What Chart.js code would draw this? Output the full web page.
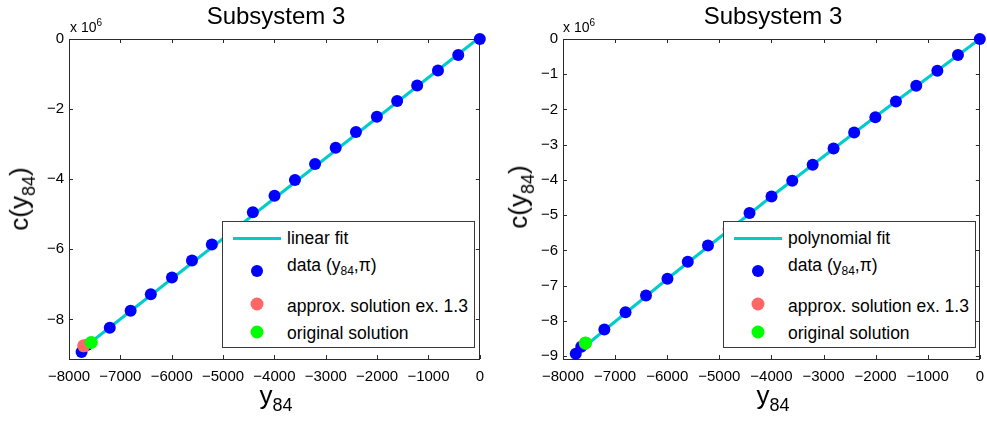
<!DOCTYPE html>
<html>
<head>
<meta charset="utf-8">
<script src="https://cdn.jsdelivr.net/npm/chart.js@4.4.1/dist/chart.umd.min.js"></script>
<style>
  html, body { margin: 0; padding: 0; background: #fff; overflow: hidden; }
  body { width: 987px; height: 421px; position: relative; font-family: "Liberation Sans", Arial, sans-serif; color: #000; }
  canvas { position: absolute; top: 0; }
  .txt { position: absolute; white-space: nowrap; }
  .title { font-size: 24px; transform: translateX(-50%); top: 2px; }
  .xlab { font-size: 26px; transform: translateX(-50%); top: 380px; }
  .ylab { font-size: 26px; transform: translate(-50%, -50%) rotate(-90deg); }
  .sub { font-size: 18px; vertical-align: -0.4em; }
  .mult { font-size: 14px; top: 17px; }
  .mult sup { font-size: 10px; vertical-align: 0.55em; }
  .legend { position: absolute; width: 251px; height: 125px; border: 1px solid #3a3a3a; background: #fff; top: 221px; }
  .legend .row { position: absolute; left: 64px; font-size: 17.5px; line-height: 20px; white-space: nowrap; }
  .legend .row .lsub { font-size: 12px; vertical-align: -0.35em; }
  .legend .lineSample { position: absolute; left: 10px; width: 48px; height: 3px; top: 15px; background: #00cccc; }
  .legend .dot { position: absolute; border-radius: 50%; transform: translate(-50%, -50%); left: 34px; }
</style>
</head>
<body>
<canvas id="leftChart" width="493" height="421" style="left:0px;width:493px;height:421px"></canvas>
<canvas id="rightChart" width="500" height="421" style="left:493px;width:500px;height:421px"></canvas>

<div class="txt title" style="left:276px">Subsystem 3</div>
<div class="txt title" style="left:773px">Subsystem 3</div>
<div class="txt mult" style="left:70px">x 10<sup>6</sup></div>
<div class="txt mult" style="left:563px">x 10<sup>6</sup></div>
<div class="txt xlab" style="left:276px">y<span class="sub">84</span></div>
<div class="txt xlab" style="left:773px">y<span class="sub">84</span></div>
<div class="txt ylab" style="left:22px;top:199px">c(y<span class="sub">84</span>)</div>
<div class="txt ylab" style="left:521px;top:197px">c(y<span class="sub">84</span>)</div>

<div class="legend" style="left:222px">
  <div class="lineSample"></div>
  <div class="row" style="top:6px">linear fit</div>
  <span class="dot" style="top:49px;width:12px;height:12px;background:#0000ff"></span>
  <div class="row" style="top:33px">data (y<span class="lsub">84</span>,π)</div>
  <span class="dot" style="top:82px;width:13px;height:13px;background:#ff6666"></span>
  <div class="row" style="top:74px">approx. solution ex. 1.3</div>
  <span class="dot" style="top:110px;width:13px;height:13px;background:#00ff00"></span>
  <div class="row" style="top:101px">original solution</div>
</div>
<div class="legend" style="left:723px">
  <div class="lineSample"></div>
  <div class="row" style="top:6px">polynomial fit</div>
  <span class="dot" style="top:49px;width:12px;height:12px;background:#0000ff"></span>
  <div class="row" style="top:33px">data (y<span class="lsub">84</span>,π)</div>
  <span class="dot" style="top:82px;width:13px;height:13px;background:#ff6666"></span>
  <div class="row" style="top:74px">approx. solution ex. 1.3</div>
  <span class="dot" style="top:110px;width:13px;height:13px;background:#00ff00"></span>
  <div class="row" style="top:101px">original solution</div>
</div>

<script>
// data; c values are in units of 10^6
const dataY84 = [0, -420, -815, -1220, -1610, -2005, -2412, -2807, -3208, -3600, -3998,
  -4420, -4820, -5218, -5605, -5995, -6407, -6800, -7206, -7650, -7755];
const dataC = [0, -0.456, -0.898, -1.329, -1.772, -2.218, -2.651, -3.106, -3.567, -4.020, -4.470,
  -4.940, -5.390, -5.860, -6.320, -6.805, -7.280, -7.755, -8.240, -8.730, -8.930];

// left: linear fit
const linFitY84 = [-7755, 0];
const linFitC = [-8.86, 0.05];
const leftApproxY84 = [-7714];
const leftApproxC = [-8.754];
const leftOrigY84 = [-7565];
const leftOrigC = [-8.657];

// right: polynomial fit
const polyFitY84 = [-7755, -6000, -4000, -2000, 0];
const polyFitC = [-8.93, -6.81, -4.47, -2.2, 0];
const rightApproxY84 = [-7572];
const rightApproxC = [-8.63];
const rightOrigY84 = [-7567];
const rightOrigC = [-8.625];

// tick labels
const xTicks = [-8000, -7000, -6000, -5000, -4000, -3000, -2000, -1000, 0];
const leftYTicks = [0, -2, -4, -6, -8];
const rightYTicks = [0, -1, -2, -3, -4, -5, -6, -7, -8, -9];

const FONT = "'Liberation Sans', Arial, sans-serif";
const minus = v => String(v).replace('-', '\u2212');
const pts = (xs, ys) => xs.map((x, i) => ({ x: x, y: ys[i] }));

// axes box + inward ticks on all four sides, like matlab
const framePlugin = {
  id: 'frame',
  beforeDatasetsDraw(chart) {
    const { ctx, chartArea: a, scales: { x, y } } = chart;
    ctx.save();
    ctx.strokeStyle = '#2b2b2b';
    ctx.lineWidth = 1;
    ctx.strokeRect(Math.round(a.left) + 0.5, Math.round(a.top) + 0.5,
      Math.round(a.right - a.left) - 1, Math.round(a.bottom - a.top));
    ctx.beginPath();
    x.ticks.forEach(t => {
      const px = Math.round(x.getPixelForValue(t.value)) + 0.5;
      ctx.moveTo(px, a.bottom); ctx.lineTo(px, a.bottom - 4);
      ctx.moveTo(px, a.top); ctx.lineTo(px, a.top + 4);
    });
    y.ticks.forEach(t => {
      const py = Math.round(y.getPixelForValue(t.value)) + 0.5;
      ctx.moveTo(a.left, py); ctx.lineTo(a.left + 4, py);
      ctx.moveTo(a.right, py); ctx.lineTo(a.right - 4, py);
    });
    ctx.stroke();
    ctx.restore();
  }
};

function makeChart(id, cfg) {
  return new Chart(document.getElementById(id), {
    type: 'scatter',
    data: {
      datasets: [
        { label: 'original solution', data: pts(cfg.origX, cfg.origY), backgroundColor: '#00ff00',
          borderWidth: 0, pointRadius: 6.5, clip: false, order: 0 },
        { label: 'approx. solution ex. 1.3', data: pts(cfg.apprX, cfg.apprY), backgroundColor: '#ff6666',
          borderWidth: 0, pointRadius: 6.5, clip: false, order: 1 },
        { label: 'data', data: pts(dataY84, dataC), backgroundColor: '#0000ff',
          borderWidth: 0, pointRadius: 6, clip: false, order: 2 },
        { label: cfg.fitLabel, type: 'line', data: pts(cfg.fitX, cfg.fitY), borderColor: '#00cccc',
          borderWidth: 3, pointRadius: 0, fill: false, tension: 0, clip: false, order: 3 }
      ]
    },
    options: {
      responsive: false,
      animation: false,
      events: [],
      layout: { padding: { top: 39, right: cfg.padRight, left: 0, bottom: 0 } },
      plugins: { legend: { display: false }, tooltip: { enabled: false }, title: { display: false } },
      scales: {
        x: {
          type: 'linear', min: -8000, max: 0,
          grid: { display: false, drawTicks: false },
          border: { display: false },
          afterBuildTicks: s => { s.ticks = xTicks.map(v => ({ value: v })); },
          afterFit: s => { s.height = 62; },
          ticks: { padding: 9, color: '#000', font: { family: FONT, size: 15 }, maxRotation: 0,
            autoSkip: false, callback: v => minus(v) }
        },
        y: {
          type: 'linear', min: cfg.yMin, max: 0,
          grid: { display: false, drawTicks: false },
          border: { display: false },
          afterBuildTicks: s => { s.ticks = cfg.yTicks.map(v => ({ value: v })); },
          afterFit: s => { s.width = cfg.yWidth; },
          ticks: { padding: 5, color: '#000', font: { family: FONT, size: 15 },
            autoSkip: false, callback: v => minus(v) }
        }
      }
    },
    plugins: [framePlugin]
  });
}

makeChart('leftChart', {
  fitLabel: 'linear fit', fitX: linFitY84, fitY: linFitC,
  apprX: leftApproxY84, apprY: leftApproxC, origX: leftOrigY84, origY: leftOrigC,
  yTicks: leftYTicks, yMin: -9.13, yWidth: 69, padRight: 10
});
makeChart('rightChart', {
  fitLabel: 'polynomial fit', fitX: polyFitY84, fitY: polyFitC,
  apprX: rightApproxY84, apprY: rightApproxC, origX: rightOrigY84, origY: rightOrigC,
  yTicks: rightYTicks, yMin: -9.08, yWidth: 70, padRight: 9
});
</script>
</body>
</html>
